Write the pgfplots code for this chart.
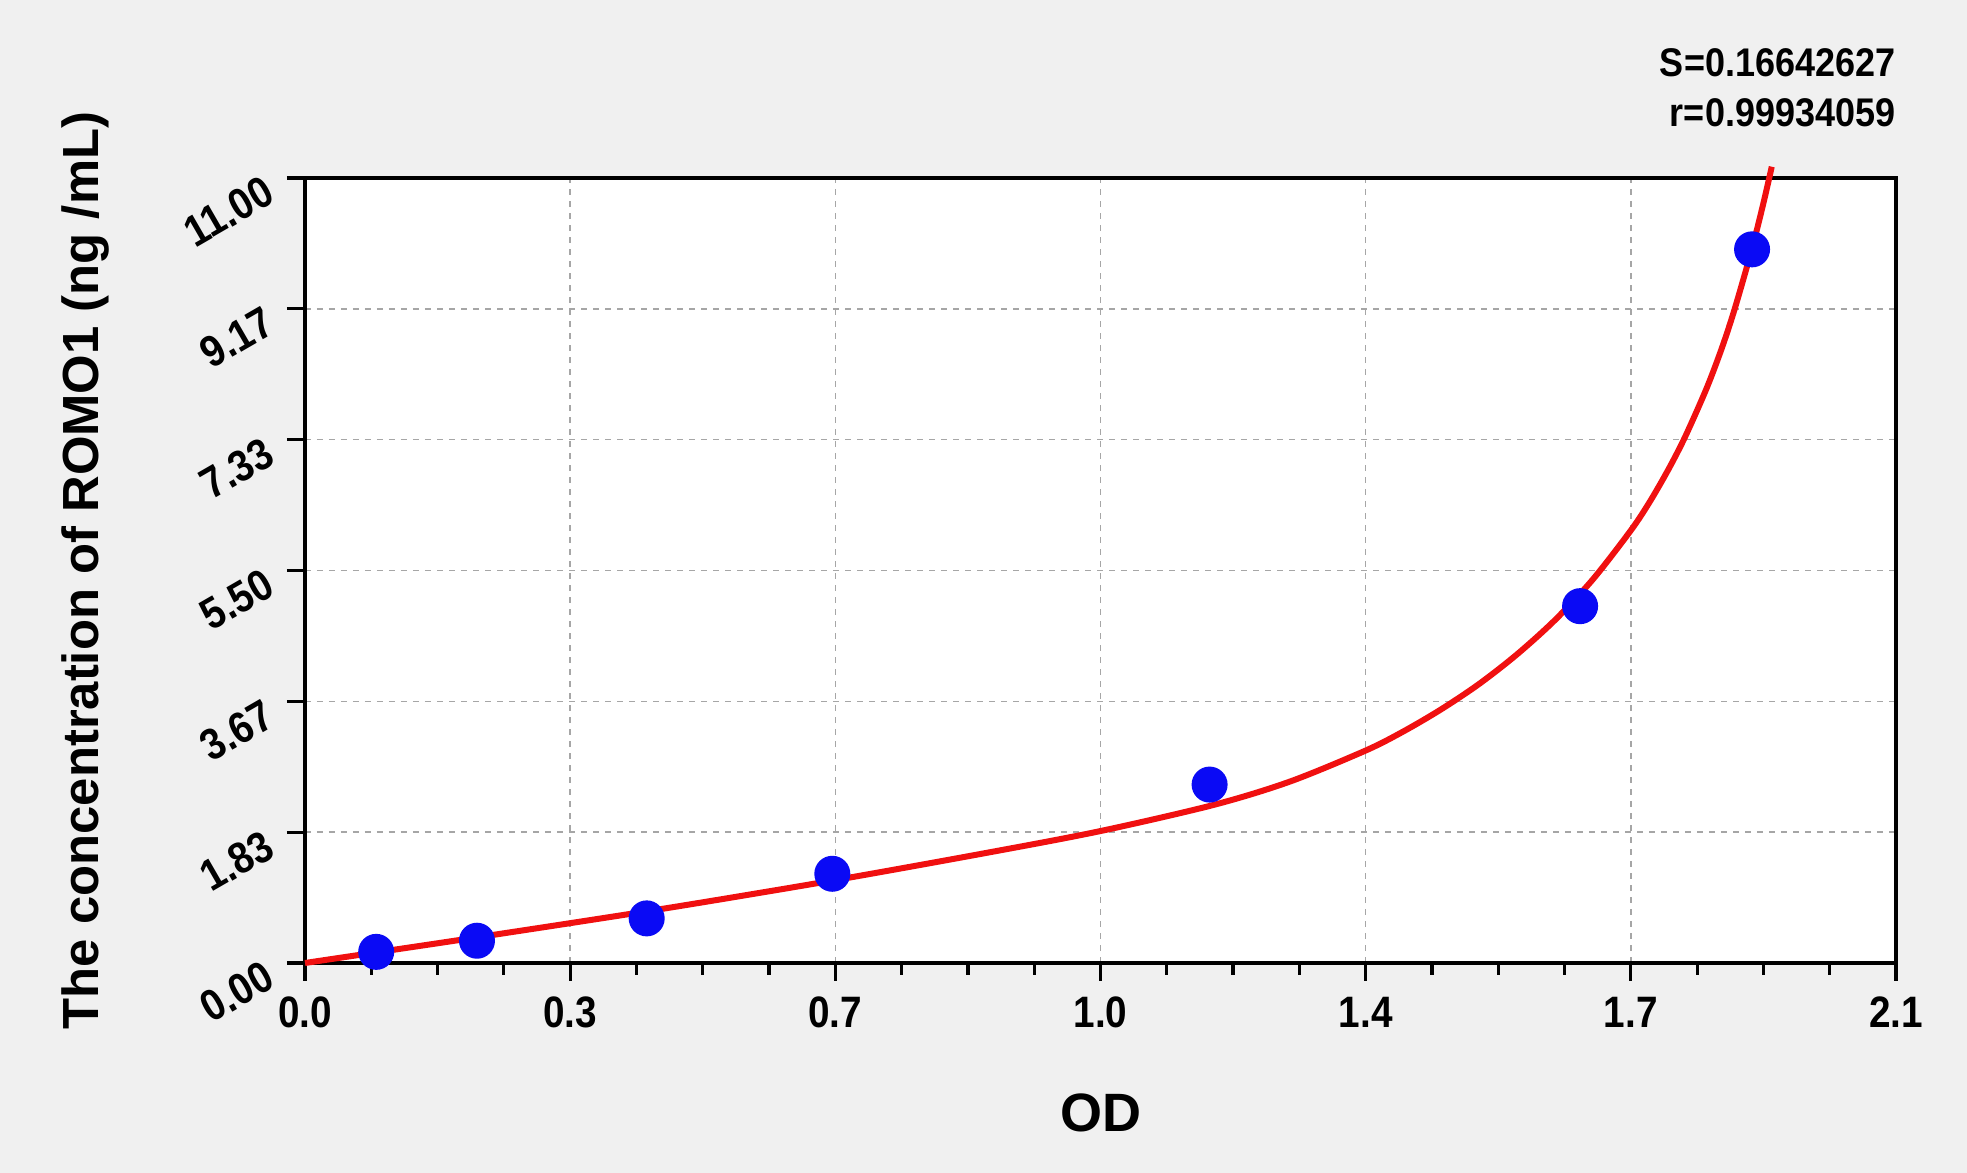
\documentclass[border=0pt]{standalone}
\usepackage{fontspec}
\setmainfont{Liberation Sans}
\usepackage{pgfplots}
\pgfplotsset{compat=1.18}
\definecolor{bg}{HTML}{F0F0F0}
\definecolor{ptblue}{HTML}{0A0AF5}
\definecolor{fitred}{HTML}{F01010}
\newcommand\sq[1]{\scalebox{0.88}[1]{#1}}
\begin{document}
\begin{tikzpicture}
\fill[bg] (-76.25pt,-52.5pt) rectangle (415.5pt,240.75pt);
\useasboundingbox (-76.25pt,-52.5pt) rectangle (415.5pt,240.75pt);
\begin{axis}[
  at={(0,0)}, anchor=south west,
  scale only axis, width=397.75pt, height=196.25pt,
  xmin=0, xmax=2.1, ymin=0, ymax=11,
  xtick={0,0.35,0.7,1.05,1.4,1.75,2.1},
  xticklabels={\sq{0.0},\sq{0.3},\sq{0.7},\sq{1.0},\sq{1.4},\sq{1.7},\sq{2.1}},
  ytick={0,1.83333,3.66667,5.5,7.33333,9.16667,11},
  yticklabels={\sq{0.00},\sq{1.83},\sq{3.67},\sq{5.50},\sq{7.33},\sq{9.17},\sq{11.00}},
  minor x tick num=3, minor y tick num=3,
  xtick pos=bottom, ytick pos=left,
  tick align=outside, major tick length=4.5pt, minor tick length=3pt,
  tick style={black, line width=0.8pt},
  major grid style={dash pattern=on 1.5pt off 1.5pt, gray!70, line width=0.4pt},
  xmajorgrids, ymajorgrids,
  axis line style={line width=0.9pt},
  axis background/.style={fill=white},
  clip=false,
  ticklabel style={font=\bfseries\fontsize{11}{13}\selectfont},
  xticklabel style={yshift=-0.5pt},
  yticklabel style={rotate=30, anchor=east, xshift=-1.5pt},
  every axis y label/.style={at={(axis description cs:0,0.5)}, xshift=-55pt, rotate=90, anchor=center, font=\bfseries\fontsize{12.7}{14}\selectfont},
  every axis x label/.style={at={(axis description cs:0.5,0)}, yshift=-37.5pt, anchor=center, font=\bfseries\fontsize{13.5}{15}\selectfont},
  xlabel={OD},
  ylabel={The concentration of ROMO1 (ng /mL)},
]
\addplot[fitred, line width=1.5pt, smooth, tension=0.5] coordinates {
 (0,0) (0.1,0.158) (0.2,0.316) (0.35,0.558) (0.5,0.807) (0.7,1.162)
 (0.9,1.544) (1.05,1.849) (1.2,2.217) (1.3,2.542) (1.4,2.977)
 (1.45,3.246) (1.5,3.557) (1.55,3.912) (1.6,4.327) (1.65,4.807)
 (1.7,5.377) (1.75,6.062) (1.775,6.463) (1.8,6.924) (1.822,7.381)
 (1.85,8.053) (1.87,8.613) (1.887,9.163) (1.91,10.014) (1.925,10.648)
 (1.936,11.158)
};
\addplot[only marks, mark=*, mark size=4.3pt, color=ptblue] coordinates {
 (0.094,0.156) (0.227,0.312) (0.451,0.625) (0.696,1.25)
 (1.194,2.5) (1.683,5.0) (1.910,10.0)
};
\node[anchor=east, inner sep=0pt, font=\bfseries\fontsize{10}{12}\selectfont] at (axis description cs:1,1) [yshift=28.8pt] {\scalebox{0.9}[1]{S=0.16642627}};
\node[anchor=east, inner sep=0pt, font=\bfseries\fontsize{10}{12}\selectfont] at (axis description cs:1,1) [yshift=16.25pt] {\scalebox{0.9}[1]{r=0.99934059}};
\end{axis}
\end{tikzpicture}
\end{document}
